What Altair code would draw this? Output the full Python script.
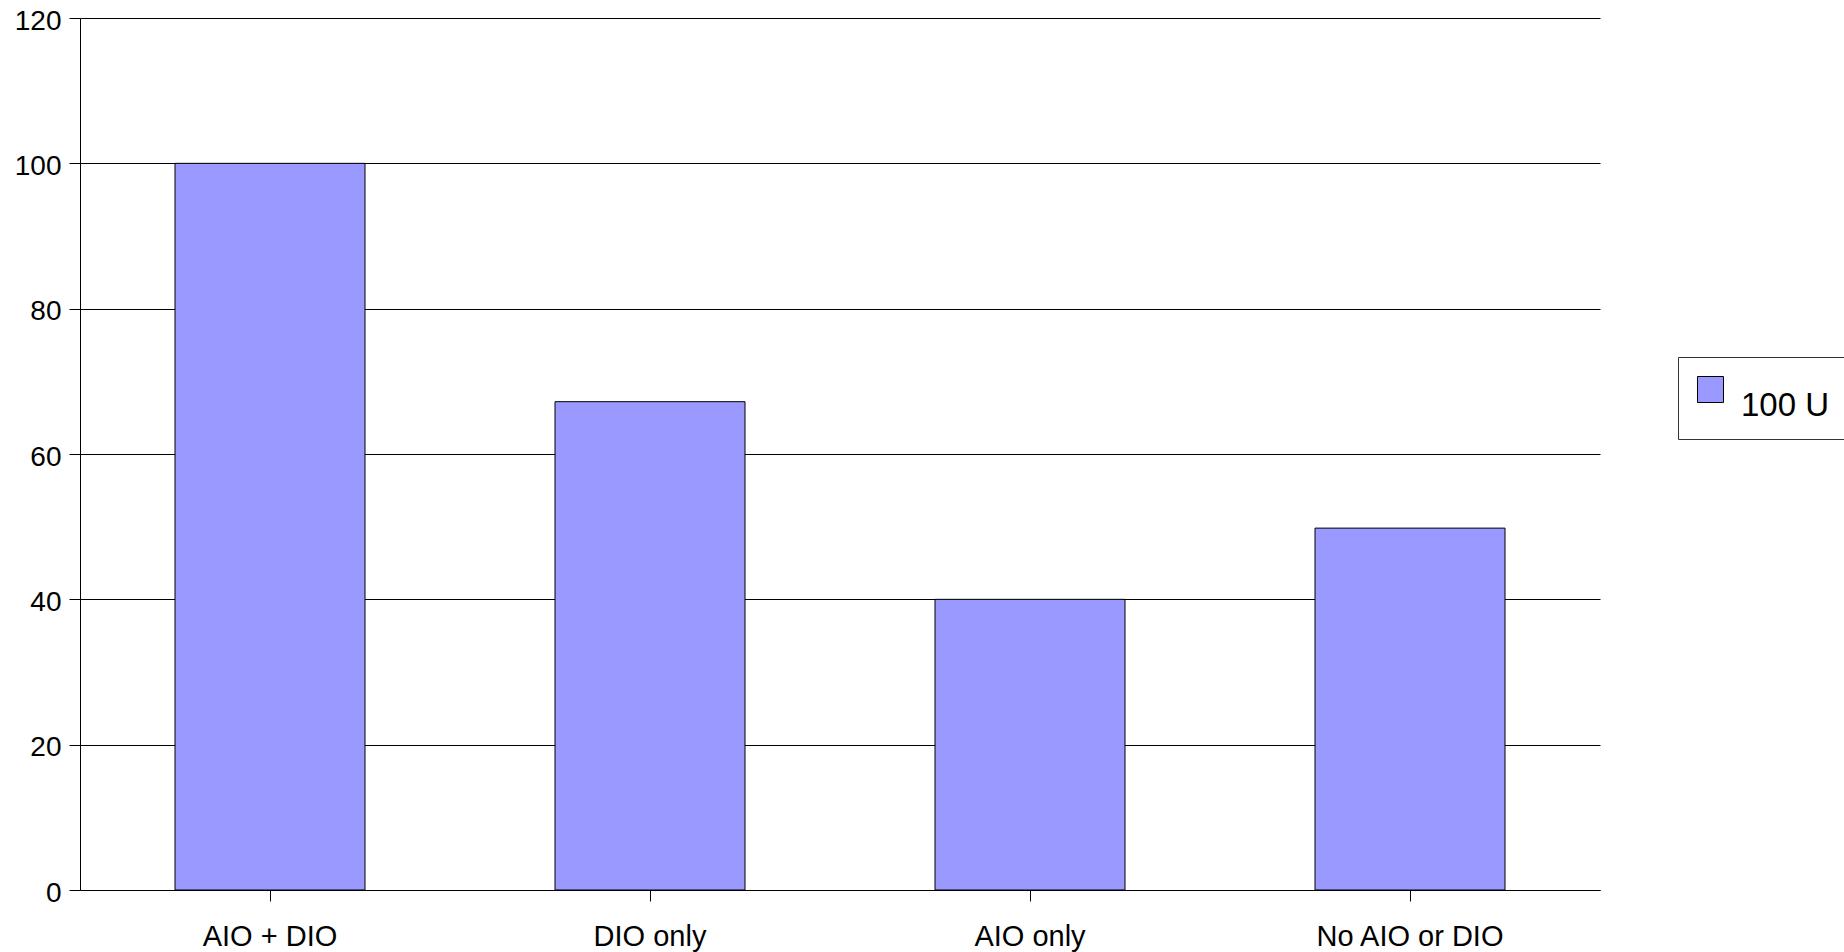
import altair as alt
import pandas as pd

categories = ["AIO + DIO", "DIO only", "AIO only", "No AIO or DIO"]
values = [100, 67.2, 40, 49.8]
series = ["100 U"] * len(categories)

df = pd.DataFrame({"mode": categories, "value": values, "series": series})

bars = alt.Chart(df).mark_bar(stroke="black", strokeWidth=1).encode(
    x=alt.X(
        "mode:N",
        sort=categories,
        title=None,
        scale=alt.Scale(paddingInner=0.5, paddingOuter=0.25),
        axis=alt.Axis(
            labelAngle=0,
            labelFontSize=29,
            labelFont="Liberation Sans",
            labelColor="black",
            labelPadding=21,
            labelLimit=400,
            tickSize=11,
            tickColor="black",
            domainColor="black",
            grid=False,
        ),
    ),
    y=alt.Y(
        "value:Q",
        title=None,
        scale=alt.Scale(domain=[0, 120], nice=False),
        axis=alt.Axis(
            values=[0, 20, 40, 60, 80, 100, 120],
            labelFontSize=28,
            labelFont="Liberation Sans",
            labelColor="black",
            labelPadding=8,
            labelOffset=3,
            tickSize=11,
            tickColor="black",
            domainColor="black",
            gridColor="black",
            gridOpacity=1,
            gridWidth=1,
        ),
    ),
    color=alt.Color(
        "series:N",
        scale=alt.Scale(range=["#9999ff"]),
        legend=alt.Legend(
            title=None,
            orient="none",
            legendX=1598,
            legendY=339,
            symbolType="square",
            symbolSize=676,
            symbolStrokeColor="black",
            symbolStrokeWidth=1,
            symbolOpacity=1,
            labelFontSize=33,
            labelFont="Liberation Sans",
            labelColor="black",
            labelOffset=14,
            labelBaseline="top",
            labelLimit=400,
            padding=16,
            strokeColor="#333333",
            fillColor="white",
        ),
    ),
)

chart = bars.properties(
    width=1520,
    height=872,
    autosize=alt.AutoSizeParams(type="none"),
    padding={"left": 80, "top": 18, "right": 244, "bottom": 62},
    background="white",
).configure_view(stroke=None)

chart.save("out.html", embed_options={"renderer": "svg", "actions": False})
